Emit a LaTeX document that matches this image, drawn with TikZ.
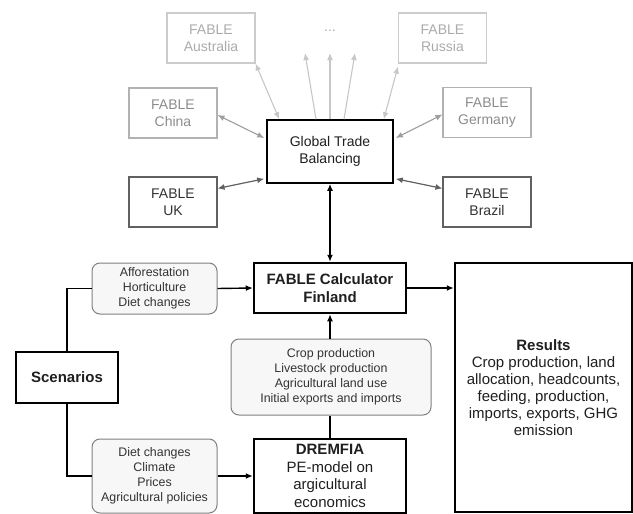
\documentclass[tikz,border=0pt]{standalone}
\usepackage{fontspec}
\setmainfont{Liberation Sans}
\usetikzlibrary{arrows.meta,positioning,calc}

\tikzset{
    tip/.tip={Latex[length=7pt,width=6pt]},
}

\begin{document}
\begin{tikzpicture}[
        x=1pt, y=-1pt,
        every node/.style={align=center, inner sep=0pt},
        country/.style={draw, rectangle, minimum width=88pt, minimum height=50pt, line width=1.1pt, font=\fontsize{14}{17}\selectfont},
        farc/.style={country, draw=black!20, text=black!33},
        midc/.style={country, draw=black!30, text=black!45},
        nearc/.style={country, draw=black!62, text=black!80},
        mainbox/.style={draw, line width=2.5pt, text=black!88, font=\fontsize{15}{17.5}\selectfont},
        infobox/.style={draw=black!50, fill=black!3, rounded corners=8pt, line width=1pt, text=black!80, font=\fontsize{12.4}{15}\selectfont},
        link/.style={-tip, line width=1.4pt},
        farlink/.style={tip-tip, line width=1.1pt, draw=black!22, fill=black!22},
        midlink/.style={tip-tip, line width=1.1pt, draw=black!38, fill=black!38},
        nearlink/.style={tip-tip, line width=1.2pt, draw=black!62, fill=black!62},
    ]
    \useasboundingbox (0,0) rectangle (633,514);

    % trade partners
    \node[farc]  (aus) at (211,38)    {FABLE\\Australia};
    \node[farc]  (rus) at (442.5,38)  {FABLE\\Russia};
    \node[midc]  (chn) at (173,113)   {FABLE\\China};
    \node[midc]  (ger) at (487,112.5) {FABLE\\Germany};
    \node[nearc] (uk)  at (173,202)   {FABLE\\UK};
    \node[nearc] (bra) at (487,202)   {FABLE\\Brazil};
    \node[text=black!33, font=\fontsize{14}{17}\selectfont] (dots) at (330,31) {...};

    \node[draw, line width=1.6pt, minimum width=126pt, minimum height=63pt, text=black!88, font=\fontsize{14}{17}\selectfont] (gtb) at (330,151.5) {Global Trade\\Balancing};

    % Finland
    \node[mainbox, minimum width=152pt, minimum height=50pt, font=\bfseries\fontsize{15}{17.5}\selectfont] (calc) at (330,288) {FABLE Calculator\\Finland};
    \node[mainbox, minimum width=102pt, minimum height=51pt, font=\bfseries\fontsize{15}{17.5}\selectfont] (scen) at (67,377.5) {Scenarios};
    \node[mainbox, minimum width=152pt, minimum height=74pt] (drem) at (330,476) {\textbf{DREMFIA}\\PE-model on\\argicultural\\economics};
    \node[mainbox, minimum width=177pt, minimum height=249pt, font=\fontsize{15}{17}\selectfont] (res) at (543.5,387.5) {\textbf{Results}\\Crop production, land\\allocation, headcounts,\\feeding, production,\\imports, exports, GHG\\emission};

    \node[infobox, minimum width=125pt, minimum height=51pt] (aff) at (154.5,288.5) {Afforestation\\Horticulture\\Diet changes};
    \node[infobox, minimum width=125pt, minimum height=74pt] (diet) at (154.5,476) {Diet changes\\Climate\\Prices\\Agricultural policies};
    \node[infobox, minimum width=200pt, minimum height=76pt] (crop) at (331,377) {Crop production\\Livestock production\\Agricultural land use\\Initial exports and imports};

    % links to other countries
    \coordinate (up1) at (305,53);
    \coordinate (up2) at (330,53);
    \coordinate (up3) at (355,53);
    \draw[farlink] (aus.south east) -- ([xshift=13pt]gtb.north west);
    \draw[farlink] ([xshift=-10pt]gtb.north east) -- ([yshift=-3pt]rus.south west);
    \draw[farlink, tip-] (up1) -- ([xshift=-14pt]gtb.north);
    \draw[farlink, tip-] (up2) -- (gtb.north);
    \draw[farlink, tip-] (up3) -- ([xshift=14pt]gtb.north);
    \draw[midlink] ([yshift=-2pt]chn.east) -- ([yshift=13.5pt,xshift=-2pt]gtb.west);
    \draw[midlink] ([yshift=-2pt]ger.west) -- ([yshift=13.5pt,xshift=2pt]gtb.east);
    \draw[nearlink] ([yshift=-12pt]uk.north east) -- ([yshift=5pt,xshift=-2pt]gtb.south west);
    \draw[nearlink] ([yshift=-12pt]bra.north west) -- ([yshift=5pt,xshift=2pt]gtb.south east);
    \draw[tip-tip, line width=1.8pt] (gtb.south) -- (calc.north);

    % scenario and model flows
    \draw[line width=1.4pt] (scen.north) |- (aff.west);
    \draw[link] (aff.east) -- (calc.west);
    \draw[line width=1.4pt] (scen.south) |- (diet.west);
    \draw[link] (diet.east) -- (drem.west);
    \draw[line width=1.4pt] (drem.north) -- (drem.north |- crop.south);
    \draw[link] (drem.north |- crop.north) -- (calc.south);
    \draw[link] (calc.east) -- (calc.east -| res.west);
\end{tikzpicture}
\end{document}
